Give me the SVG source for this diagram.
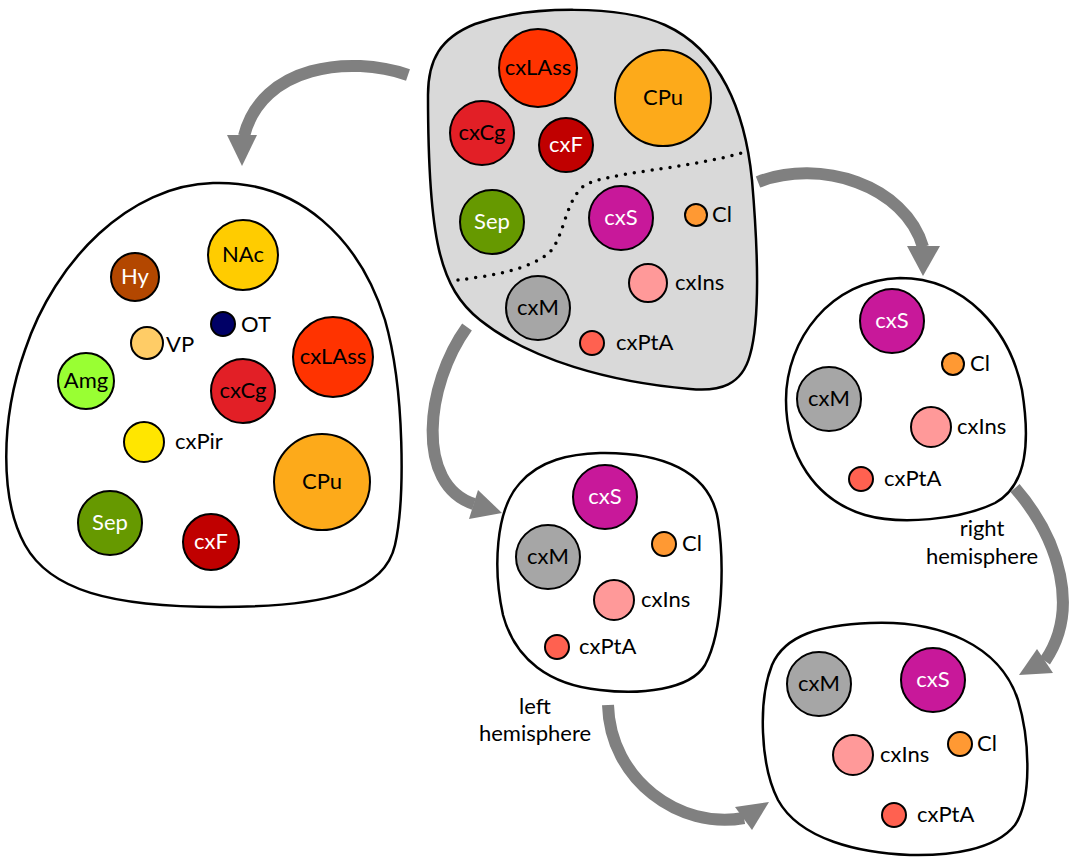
<svg xmlns="http://www.w3.org/2000/svg" width="1073" height="858" viewBox="0 0 1073 858">
<style>
.blob{fill:#fff;stroke:#000;stroke-width:2.5}
.gray{fill:#d9d9d9}
.c{stroke:#000;stroke-width:2}
text{font-family:Lato,"Liberation Sans",sans-serif;font-size:22px;fill:#000}
.m{text-anchor:middle}
.w{fill:#fff}
.arr{fill:none;stroke:#808080;stroke-width:12}
.head{fill:#808080}
.lAss{fill:#ff3300}.lCg{fill:#e21f26}.lF{fill:#c00000}.lCPu{fill:#fdaa1a}.lSep{fill:#669900}
.lS{fill:#c8189a}.lM{fill:#a6a6a6}.lIns{fill:#ff9999}.lPtA{fill:#ff6150}.lCl{fill:#ff9933}
.lNAc{fill:#ffcc00}.lHy{fill:#b34700}.lOT{fill:#000066}.lVP{fill:#ffcc66}.lAmg{fill:#99ff33}.lPir{fill:#ffe600}
</style>
<g id="connectors">
<path class="arr" d="M408,75 C 350,55 262,65 244,136"/>
<polygon class="head" points="227,135 257,135 242,166"/>
<path class="arr" d="M758,182 C 820,158 905,185 923,247"/>
<polygon class="head" points="907,246 940,246 923,276"/>
<path class="arr" d="M467,327 C 425,385 415,485 474,504"/>
<polygon class="head" points="478,490 469,519 502,513"/>
<path class="arr" d="M1015,488 C 1060,540 1080,610 1045,661"/>
<polygon class="head" points="1037,649 1053,673 1019,675"/>
<path class="arr" d="M608,705 C 610,780 680,830 744,818"/>
<polygon class="head" points="735,807 752,830 769,802"/>
</g>
<g id="top-blob">
<path class="blob gray" d="M428,95 C 428,60 440,38 475,24 C 530,5 620,5 665,25 C 720,50 745,110 752,180 C 758,250 760,320 750,355 C 742,385 720,392 690,389 C 610,382 530,360 480,320 C 440,288 428,240 428,95 Z"/>
<path d="M458,280 C 490,276 530,270 550,252 C 565,235 565,200 585,185 C 610,172 680,170 742,153" fill="none" stroke="#000" stroke-width="3.5" stroke-dasharray="0 9" stroke-linecap="round"/>
<circle class="c lAss" cx="538" cy="68" r="39"/><text class="m" x="538" y="75">cxLAss</text>
<circle class="c lCPu" cx="663" cy="98" r="48"/><text class="m" x="663" y="105">CPu</text>
<circle class="c lCg" cx="482" cy="133" r="32"/><text class="m" x="482" y="140">cxCg</text>
<circle class="c lF" cx="566" cy="145" r="27"/><text class="m w" x="566" y="152">cxF</text>
<circle class="c lSep" cx="492" cy="222" r="32"/><text class="m w" x="492" y="229">Sep</text>
<circle class="c lS" cx="621" cy="218" r="32"/><text class="m w" x="621" y="225">cxS</text>
<circle class="c lCl" cx="696" cy="215" r="11"/><text x="712" y="222">Cl</text>
<circle class="c lIns" cx="648" cy="283" r="19"/><text x="675" y="290">cxIns</text>
<circle class="c lM" cx="538" cy="308" r="32"/><text class="m" x="538" y="315">cxM</text>
<circle class="c lPtA" cx="592" cy="343" r="12"/><text x="616" y="350">cxPtA</text>
</g>
<g id="left-blob">
<path class="blob" d="M213,183 C 300,180 360,240 385,320 C 405,390 405,500 395,545 C 385,590 330,607 220,607 C 110,607 50,590 25,545 C 0,500 0,420 25,350 C 55,260 130,185 213,183 Z"/>
<circle class="c lNAc" cx="243" cy="255" r="35"/><text class="m" x="243" y="262">NAc</text>
<circle class="c lHy" cx="135" cy="277" r="24"/><text class="m w" x="135" y="284">Hy</text>
<circle class="c lOT" cx="223" cy="324" r="12"/><text x="241" y="332">OT</text>
<circle class="c lVP" cx="147" cy="343" r="16"/><text x="166" y="352">VP</text>
<circle class="c lAmg" cx="86" cy="381" r="28"/><text class="m" x="86" y="388">Amg</text>
<circle class="c lAss" cx="333" cy="357" r="40"/><text class="m" x="333" y="364">cxLAss</text>
<circle class="c lCg" cx="243" cy="391" r="32"/><text class="m" x="243" y="398">cxCg</text>
<circle class="c lPir" cx="144" cy="442" r="20"/><text x="175" y="449">cxPir</text>
<circle class="c lCPu" cx="322" cy="482" r="48"/><text class="m" x="322" y="489">CPu</text>
<circle class="c lSep" cx="110" cy="523" r="32"/><text class="m w" x="110" y="530">Sep</text>
<circle class="c lF" cx="211" cy="542" r="28"/><text class="m w" x="211" y="549">cxF</text>
</g>
<g id="right-hemisphere">
<path class="blob" d="M900,278 C 965,278 1010,330 1022,390 C 1030,440 1028,485 995,503 C 960,520 900,525 865,515 C 815,500 786,455 786,400 C 786,340 830,280 900,278 Z"/>
<circle class="c lS" cx="892" cy="321" r="32"/><text class="m w" x="892" y="328">cxS</text>
<circle class="c lCl" cx="953" cy="364" r="11"/><text x="970" y="371">Cl</text>
<circle class="c lM" cx="829" cy="399" r="32"/><text class="m" x="829" y="406">cxM</text>
<circle class="c lIns" cx="931" cy="427" r="20"/><text x="957" y="434">cxIns</text>
<circle class="c lPtA" cx="861" cy="479" r="12"/><text x="884" y="486">cxPtA</text>
<text class="m" x="982" y="536">right</text>
<text class="m" x="982" y="564">hemisphere</text>
</g>
<g id="left-hemisphere">
<path class="blob" d="M600,453 C 660,452 710,470 718,520 C 724,560 724,630 705,665 C 690,690 640,695 600,690 C 550,685 515,660 503,615 C 493,570 495,510 520,483 C 540,460 570,454 600,453 Z"/>
<circle class="c lS" cx="605" cy="497" r="32"/><text class="m w" x="605" y="504">cxS</text>
<circle class="c lCl" cx="664" cy="544" r="12"/><text x="682" y="551">Cl</text>
<circle class="c lM" cx="548" cy="557" r="32"/><text class="m" x="548" y="564">cxM</text>
<circle class="c lIns" cx="614" cy="600" r="20"/><text x="641" y="607">cxIns</text>
<circle class="c lPtA" cx="557" cy="647" r="12"/><text x="579" y="654">cxPtA</text>
<text class="m" x="535" y="714">left</text>
<text class="m" x="535" y="741">hemisphere</text>
</g>
<g id="combined">
<path class="blob" d="M870,623 C 940,620 1000,645 1018,700 C 1030,740 1032,800 1015,825 C 995,850 950,856 910,855 C 860,853 800,840 778,800 C 760,765 758,700 772,665 C 785,635 820,625 870,623 Z"/>
<circle class="c lM" cx="819" cy="684" r="32"/><text class="m" x="819" y="691">cxM</text>
<circle class="c lS" cx="933" cy="680" r="32"/><text class="m w" x="933" y="687">cxS</text>
<circle class="c lCl" cx="960" cy="744" r="12"/><text x="977" y="751">Cl</text>
<circle class="c lIns" cx="853" cy="755" r="20"/><text x="880" y="762">cxIns</text>
<circle class="c lPtA" cx="894" cy="815" r="12"/><text x="917" y="822">cxPtA</text>
</g>
</svg>
